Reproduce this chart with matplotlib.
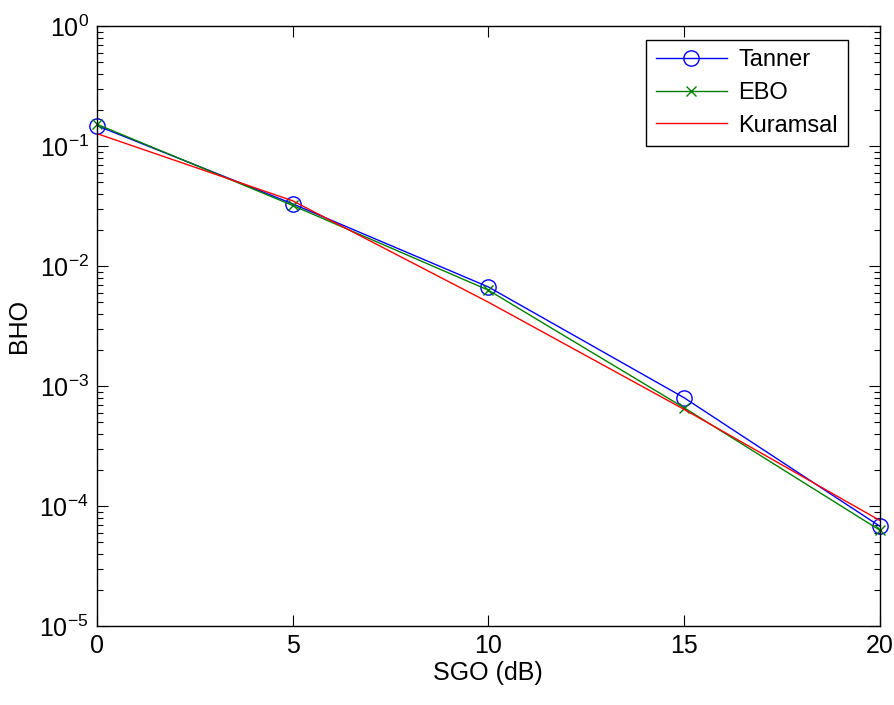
import matplotlib
matplotlib.use('Agg')
import matplotlib.pyplot as plt
from matplotlib.ticker import LogLocator

plt.rcParams['font.family'] = ['Liberation Sans', 'DejaVu Sans']
plt.rcParams['mathtext.fontset'] = 'custom'
plt.rcParams['mathtext.rm'] = 'Liberation Sans'
plt.rcParams['mathtext.it'] = 'Liberation Sans:italic'
plt.rcParams['mathtext.bf'] = 'Liberation Sans:bold'

# SNR points (dB) and bit error rates for each decoder
sgo = [0, 5, 10, 15, 20]
tanner = [0.148, 0.033, 6.7e-3, 8.0e-4, 6.8e-5]
ebo = [0.152, 0.032, 6.3e-3, 6.6e-4, 6.3e-5]
kuramsal = [0.127, 0.035, 5.0e-3, 6.4e-4, 7.6e-5]

fig = plt.figure(figsize=(8.94, 7.05), dpi=100)
ax = fig.add_axes([0.1085, 0.112, 0.8755, 0.851])

ax.semilogy(sgo, tanner, color='#0000ff', marker='o', markersize=11,
            markerfacecolor='none', linewidth=1.0, label='Tanner', clip_on=False)
ax.semilogy(sgo, ebo, color='#008000', marker='x', markersize=7,
            linewidth=1.0, label='EBO', clip_on=False)
ax.semilogy(sgo, kuramsal, color='#ff0000', linewidth=1.0, label='Kuramsal')

ax.set_xlim(0, 20)
ax.set_ylim(1e-5, 1)
ax.set_xticks([0, 5, 10, 15, 20])
ax.yaxis.set_major_locator(LogLocator(base=10, numticks=10))
ax.yaxis.set_minor_locator(LogLocator(base=10, subs=range(2, 10), numticks=20))

ax.tick_params(which='both', direction='in', top=True, right=True,
               labelsize=18, width=0.8)
ax.tick_params(which='major', length=8, pad=6)
ax.tick_params(which='minor', length=4)
for side in ax.spines.values():
    side.set_linewidth(1.0)

ax.set_xlabel('SGO (dB)', fontsize=18, labelpad=2)
ax.set_ylabel('BHO', fontsize=18, labelpad=6)

leg = ax.legend(loc='upper right', fontsize=17, fancybox=False,
                edgecolor='black', framealpha=1, handlelength=3.0,
                borderaxespad=0, handletextpad=0.5, labelspacing=0.45,
                borderpad=0.4, bbox_to_anchor=(0.959, 0.977))
leg.get_frame().set_linewidth(1.0)

fig.savefig('out.png', dpi=100)
